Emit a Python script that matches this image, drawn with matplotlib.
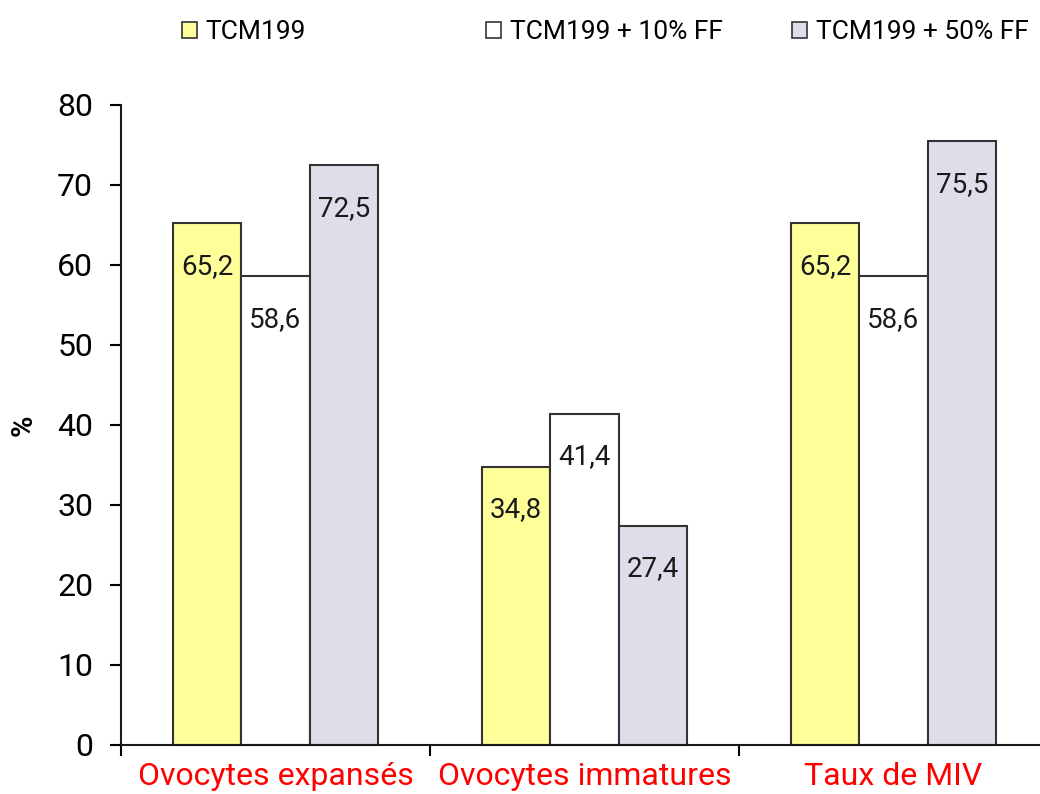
import numpy as np
import matplotlib.pyplot as plt
from matplotlib.patches import Patch

plt.rcParams['font.family'] = ['Roboto', 'DejaVu Sans']

categories = ["Ovocytes expansés", "Ovocytes immatures", "Taux de MIV"]
series_names = ["TCM199", "TCM199 + 10% FF", "TCM199 + 50% FF"]
tcm199 = [65.2, 34.8, 65.2]
ff10 = [58.6, 41.4, 58.6]
ff50 = [72.5, 27.4, 75.5]
yticks = [0, 10, 20, 30, 40, 50, 60, 70, 80]

colors = ["#FFFF99", "#FFFFFF", "#E0DCEA"]
edge = "#333333"

fig = plt.figure(figsize=(10.4, 7.94), dpi=100)
ax = fig.add_axes([121 / 1040, 49 / 794, 927 / 1040, 640 / 794])

x = np.arange(len(categories))
width = 0.222
for i, (vals, col) in enumerate(zip([tcm199, ff10, ff50], colors)):
    pos = x + (i - 1) * width
    bars = ax.bar(pos, vals, width, color=col, edgecolor=edge, linewidth=1.5,
                  clip_on=False, zorder=2)
    for b, v in zip(bars, vals):
        ax.annotate(f"{v:.1f}".replace(".", ","),
                    (b.get_x() + b.get_width() / 2, v),
                    xytext=(0, -31), textcoords="offset points",
                    ha="center", va="center", fontsize=20, color="#1a1a1a")

ax.set_xlim(-0.5, 2.5)
ax.set_ylim(0, 80)
ax.set_yticks(yticks)
ax.tick_params(axis="y", labelsize=23, length=8, width=1.5, pad=12, direction="out")
ax.set_xticks([-0.5, 0.5, 1.5, 2.5])
ax.set_xticklabels([])
ax.tick_params(axis="x", length=8, width=1.5, direction="out")
ax.set_xticks(x, minor=True)
ax.set_xticklabels(categories, minor=True, fontsize=23, color="#FF0000")
ax.tick_params(axis="x", which="minor", length=0, pad=12)

for s in ["top", "right"]:
    ax.spines[s].set_visible(False)
for s in ["left", "bottom"]:
    ax.spines[s].set_linewidth(1.5)
    ax.spines[s].set_color("#1a1a1a")
ax.spines["bottom"].set_clip_on(False)

ax.set_ylabel("%", fontsize=21, fontweight="bold", labelpad=14)

# one legend per series so each entry sits over its own group
legend_x = [182 / 1040, 486 / 1040, 792 / 1040]
for name, col, lx in zip(series_names, colors, legend_x):
    fig.legend(handles=[Patch(facecolor=col, edgecolor=edge, linewidth=1.2)],
               labels=[name], loc="center left", bbox_to_anchor=(lx, 1 - 32 / 794),
               frameon=False, fontsize=19, handlelength=0.55, handleheight=0.55,
               handletextpad=0.35, borderpad=0, borderaxespad=0)

fig.savefig("out.png", dpi=100)
